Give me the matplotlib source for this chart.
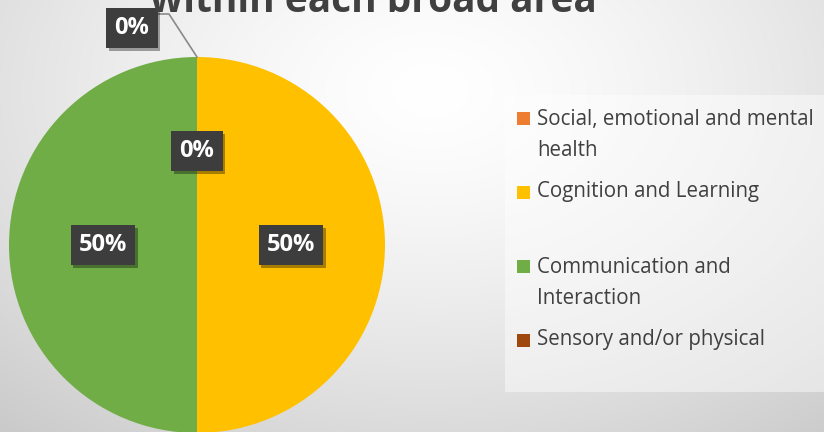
import numpy as np
import matplotlib
matplotlib.use("Agg")
import matplotlib.pyplot as plt
from matplotlib.patches import Rectangle
import matplotlib.patheffects as pe

categories = ["Social, emotional and mental\nhealth", "Cognition and Learning",
              "Communication and\nInteraction", "Sensory and/or physical"]
values = [0, 1, 1, 0]
colors = ["#ED7D31", "#FFC000", "#70AD47", "#9E480E"]
title = "within each broad area"

W, H = 824, 432
fig = plt.figure(figsize=(W / 100, H / 100), dpi=100)

# background gradient
bg = fig.add_axes([0, 0, 1, 1], zorder=0)
yy, xx = np.mgrid[0:H, 0:W]
d = np.sqrt(((xx - 430) / 620.0) ** 2 + ((yy - 90) / 420.0) ** 2)
shade = 1.0 - 0.19 * np.clip(d, 0, 1.2) ** 1.4
img = np.dstack([shade, shade, shade])
bg.imshow(img, extent=[0, W, 0, H], origin="upper", aspect="auto")
bg.set_xlim(0, W); bg.set_ylim(0, H)
bg.axis("off")

ax = fig.add_axes([0, 0, 1, 1], zorder=1)
ax.patch.set_alpha(0)

cx, cy, R = 197, H - 245, 188
wedges, _ = ax.pie(values, colors=colors, startangle=90, counterclock=False,
                   center=(cx, cy), radius=R, wedgeprops=dict(edgecolor="none"))
ax.set_xlim(0, W)
ax.set_ylim(0, H)
ax.set_aspect("equal")
ax.axis("off")

total = float(sum(values))
box = dict(boxstyle="square,pad=0.35", facecolor="#3d3d3d", edgecolor="none")
shadow = [pe.withSimplePatchShadow(offset=(2, -2), alpha=0.35, shadow_rgbFace="#000000")]


def label(x, y, s):
    t = ax.text(x, y, s, ha="center", va="center", color="white",
                fontsize=17, fontweight="bold", family="Open Sans", bbox=box, zorder=5)
    t.get_bbox_patch().set_path_effects(shadow)
    return t


for i, (w, v) in enumerate(zip(wedges, values)):
    pct = f"{v / total * 100:.0f}%"
    mid = np.deg2rad((w.theta1 + w.theta2) / 2)
    if i == 0:
        # outside label with leader line
        ax_x, ax_y = cx + R * np.cos(mid), cy + R * np.sin(mid)
        ax.plot([ax_x, 169, 158], [ax_y, H - 14, H - 14], color="#8a8a8a", lw=1.2, zorder=4)
        label(132, H - 28, pct)
    else:
        label(cx + 0.5 * R * np.cos(mid), cy + 0.5 * R * np.sin(mid), pct)

# title (cut off at the top, as in the original slide)
fig.text(373 / W, (H - 12) / H, title, ha="center", va="baseline", fontsize=28,
         fontweight="bold", family="Open Sans", color="#404040")

# legend area
ax.add_patch(Rectangle((505, H - 392), 330, 297, facecolor="white", alpha=0.45,
                       edgecolor="none", zorder=2))
for i, (cat, c) in enumerate(zip(categories, colors)):
    ytop = 118 + 74 * i
    ax.add_patch(Rectangle((517, H - ytop - 6.5), 13, 13, facecolor=c, edgecolor="none", zorder=3))
    if "\n" in cat:
        ax.text(537, H - ytop + 9, cat, ha="left", va="top",
                fontsize=14.8, family="Open Sans", color="#404040", zorder=3,
                linespacing=1.6)
    else:
        ax.text(537, H - ytop, cat, ha="left", va="center",
                fontsize=14.8, family="Open Sans", color="#404040", zorder=3)

fig.savefig("out.png", dpi=100)
